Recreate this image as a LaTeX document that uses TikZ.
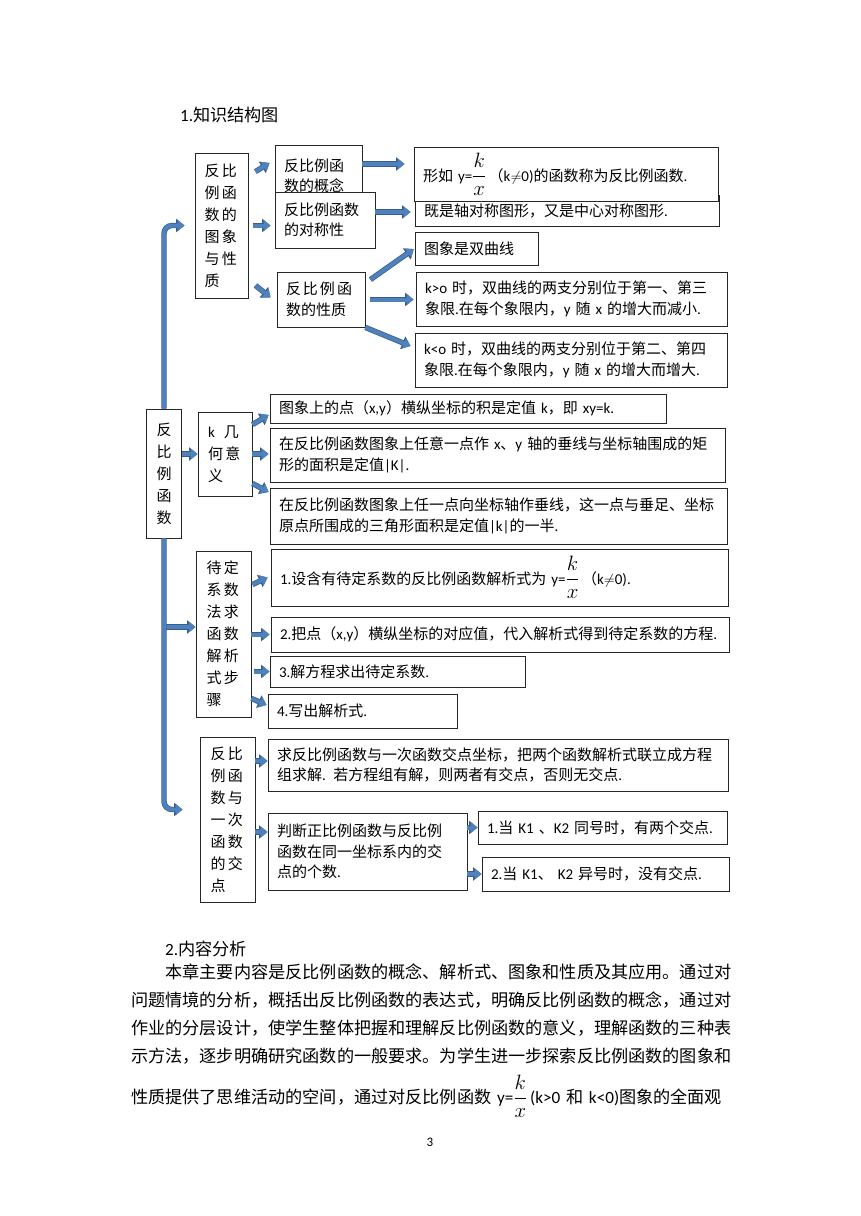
\documentclass[tikz,border=0pt]{standalone}
\usepackage{amsmath}
\usepackage{fontspec}
\setmainfont{Carlito}
\newfontfamily\cjkfont{Noto Sans CJK SC}
\XeTeXinterchartokenstate=1
\newXeTeXintercharclass\classeHan
\count255="21
\loop \XeTeXcharclass\count255=0 \ifnum\count255<"7E \advance\count255 by 1 \repeat
\count255="4E00
\loop \XeTeXcharclass\count255=\classeHan \ifnum\count255<"9FFF \advance\count255 by 1 \repeat
\count255="3000
\loop \XeTeXcharclass\count255=\classeHan \ifnum\count255<"303F \advance\count255 by 1 \repeat
\count255="FF00
\loop \XeTeXcharclass\count255=\classeHan \ifnum\count255<"FFEF \advance\count255 by 1 \repeat
\XeTeXinterchartoks 0 \classeHan = {\cjkfont}
\XeTeXinterchartoks 4095 \classeHan = {\cjkfont}
\XeTeXinterchartoks \classeHan 0 = {\rmfamily}
\XeTeXinterchartoks \classeHan 4095 = {\rmfamily}
\usepackage{tikz}
\usetikzlibrary{arrows.meta}
\definecolor{bleuFleche}{RGB}{79,129,189}
\definecolor{bleuBord}{RGB}{56,93,138}
\newcommand{\kx}{{\fontsize{20}{24}\selectfont$\dfrac{k}{x}$}}

\begin{document}
\begin{tikzpicture}[x=1pt, y=-1pt, font=\fontsize{15}{20.5}\selectfont,
  boite/.style={draw=black!85, line width=0.9pt, fill=white, inner xsep=9pt, inner ysep=2pt, align=left},
  colonne/.style={boite, font=\fontsize{15}{22}\selectfont, text width=34pt},
  fleche/.style={draw=bleuFleche, line width=4pt, -{Triangle[width=11pt,length=7pt]},
    preaction={draw=bleuBord, line width=5.4pt, -{Triangle[width=13pt,length=8.5pt]}}},
  texte/.style={inner sep=0pt, anchor=west, font=\fontsize{17.15}{28}\selectfont}]

\path[use as bounding box, fill=white] (0,0) rectangle (860,1216);

\node[texte] (titre1) at (180,115) {1.知识结构图};

\node[colonne, minimum width=53pt, minimum height=145pt] (tuxiang) at (221.5,225.5) {反\,比\\例\,函\\数\,的\\图\,象\\与\,性\\质};
\node[boite, text width=69pt, minimum height=62pt] (gainian) at (318.5,176) {反比例函\\数的概念};
\node[boite, text width=82pt, minimum height=56pt] (duichen) at (325,220) {反比例函数\\的对称性};
\node[boite, text width=286pt, minimum height=31pt] (duichenxing) at (567,210.5) {既是轴对称图形，又是中心对称图形.};
\node[boite, text width=286pt, minimum height=54pt] (dingyi) at (566,174) {形如 y=\kx\,（k$\neq$0)的函数称为反比例函数.};
\node[boite, text width=70pt, minimum height=55pt] (xingzhi) at (321,299.5) {反\kern2pt 比\kern2pt 例\kern2pt 函\\数的性质};
\node[boite, text width=105pt, minimum height=33pt] (shuangqu) at (476.5,248.5) {图象是双曲线};
\node[boite, text width=293pt, minimum height=54pt] (kp) at (571.5,299) {k>o 时，双曲线的两支分别位于第一、第三\\象限.在每个象限内，y 随 x 的增大而减小.};
\node[boite, text width=294pt, minimum height=54pt] (kn) at (571,360) {k<o 时，双曲线的两支分别位于第二、第四\\象限.在每个象限内，y 随 x 的增大而增大.};

\node[colonne, text width=17pt, align=center, minimum width=34pt, minimum height=129pt] (fanbili) at (164,473.5) {反\\比\\例\\函\\数};
\node[colonne, minimum width=54pt, minimum height=84pt] (jihe) at (225,454) {k\hspace{9pt}几\\何\,意\\义};
\node[boite, text width=378pt, minimum height=29pt] (dian) at (468,408.5) {图象上的点（x,y）横纵坐标的积是定值 k，即 xy=k.};
\node[boite, text width=437pt, minimum height=54pt] (juxing) at (497.5,455) {在反比例函数图象上任意一点作 x、y 轴的垂线与坐标轴围成的矩\\形的面积是定值|K|.};
\node[boite, text width=439pt, minimum height=56pt] (sanjiao) at (498.5,516) {在反比例函数图象上任一点向坐标轴作垂线，这一点与垂足、坐标\\原点所围成的三角形面积是定值|k|的一半.};

\node[colonne, minimum width=55pt, minimum height=166pt] (daiding) at (223.5,634) {待\,定\\系\,数\\法\,求\\函\,数\\解\,析\\式\,步\\骤};
\node[boite, text width=439pt, minimum height=57pt] (buzhou1) at (499.5,577.5) {1.设含有待定系数的反比例函数解析式为 y=\kx\,（k$\neq$0).};
\node[boite, text width=440pt, minimum height=35pt] (buzhou2) at (500,634.5) {2.把点（x,y）横纵坐标的对应值，代入解析式得到待定系数的方程.};
\node[boite, text width=237pt, minimum height=31pt] (buzhou3) at (397.5,671.5) {3.解方程求出待定系数.};
\node[boite, text width=171pt, minimum height=34pt] (buzhou4) at (362.5,711) {4.写出解析式.};

\node[colonne, minimum width=55pt, minimum height=165pt] (jiaodian) at (227.5,819.5) {反\,比\\例\,函\\数\,与\\一\,次\\函\,数\\的\,交\\点};
\node[boite, text width=442pt, minimum height=52pt] (qiujie) at (498,765) {求反比例函数与一次函数交点坐标，把两个函数解析式联立成方程\\组求解. 若方程组有解，则两者有交点，否则无交点.};
\node[boite, text width=181pt, minimum height=77pt] (panduan) at (367.5,851.5) {判断正比例函数与反比例\\函数在同一坐标系内的交\\点的个数.};
\node[boite, text width=231pt, minimum height=33pt] (tonghao) at (602.5,827.5) {1.当 K1 、K2 同号时，有两个交点.};
\node[boite, text width=229pt, minimum height=34pt] (yihao) at (605.5,874) {2.当 K1、 K2 异号时，没有交点.};

\coordinate (fourche) at (164,627);
\draw[fleche] (fourche) -- (fourche -| daiding.west);
\draw[fleche, rounded corners=8pt, shorten >=10pt] (fanbili.north) |- (tuxiang.west);
\draw[fleche, rounded corners=8pt, shorten >=17pt] (fanbili.south) |- ([yshift=10pt]jiaodian.west);
\draw[fleche] (jihe.west -| fanbili.east) -- (jihe.west);

\draw[fleche] ([xshift=7pt,yshift=-19pt]tuxiang.north east) -- ([xshift=-5pt,yshift=13pt]gainian.west);
\draw[fleche, shorten <=5pt, shorten >=4pt] (tuxiang.east) -- (tuxiang.east -| duichen.west);
\draw[fleche] ([xshift=7pt,yshift=13pt]tuxiang.south east) -- ([xshift=-6pt,yshift=2pt]xingzhi.west);
\draw[fleche, shorten >=9pt] ([yshift=12pt]gainian.east) -- ([yshift=12pt]gainian.east -| dingyi.west);
\draw[fleche, shorten >=4pt] ([yshift=8pt]duichen.east) -- ([yshift=8pt]duichen.east -| duichenxing.west);
\draw[fleche, shorten >=1pt] ([xshift=5pt,yshift=-8pt]xingzhi.north east) -- (shuangqu.west);
\draw[fleche, shorten <=5pt, shorten >=2pt] (xingzhi.east) -- (xingzhi.east -| kp.west);
\draw[fleche] (xingzhi.south east) -- ([xshift=-4pt,yshift=14pt]kn.west);

\draw[fleche] ([yshift=-13pt]jihe.north east) -- ([xshift=-1pt,yshift=-6.5pt]dian.west);
\draw[fleche, shorten >=1pt] (jihe.east) -- (jihe.east -| juxing.west);
\draw[fleche] ([yshift=13pt]jihe.south east) -- ([xshift=-1pt,yshift=24pt]sanjiao.west);

\draw[fleche] ([xshift=1pt,yshift=-34pt]daiding.north east) -- ([xshift=-3pt]buzhou1.west);
\draw[fleche, shorten >=1pt] (daiding.east |- buzhou2.west) -- (buzhou2.west);
\draw[fleche, shorten <=3pt] (daiding.east |- buzhou3.west) -- (buzhou3.west);
\draw[fleche] ([yshift=19pt]daiding.south east) -- ([xshift=-1pt,yshift=6pt]buzhou4.west);

\draw[fleche] ([yshift=4pt]jiaodian.east |- qiujie.west) -- ([yshift=4pt]qiujie.west);
\draw[fleche] ([yshift=-12.5pt]jiaodian.east) -- ([yshift=-12.5pt]jiaodian.east -| panduan.west);
\draw[fleche] (panduan.east |- tonghao.west) -- (tonghao.west);
\draw[fleche] (panduan.east |- yihao.west) -- (yihao.west);

\node[texte] (titre2) at (165,949) {2.内容分析};
\node[anchor=north west, inner sep=0pt, text width=605pt, align=left, font=\fontsize{17.15}{28}\selectfont] (neirong) at (131,964)
  {\hspace*{34.3pt}本章主要内容是反比例函数的概念、解析式、图象和性质及其应用。通过对\\
  问题情境的分析，概括出反比例函数的表达式，明确反比例函数的概念，通过对\\
  作业的分层设计，使学生整体把握和理解反比例函数的意义，理解函数的三种表\\
  示方法，逐步明确研究函数的一般要求。为学生进一步探索反比例函数的图象和\\[9pt]
  性质提供了思维活动的空间，通过对反比例函数 y=\kx\,(k>0 和 k<0)图象的全面观};
\node[font=\fontsize{13}{15}\selectfont] (yema) at (430,1142) {3};

\end{tikzpicture}
\end{document}
